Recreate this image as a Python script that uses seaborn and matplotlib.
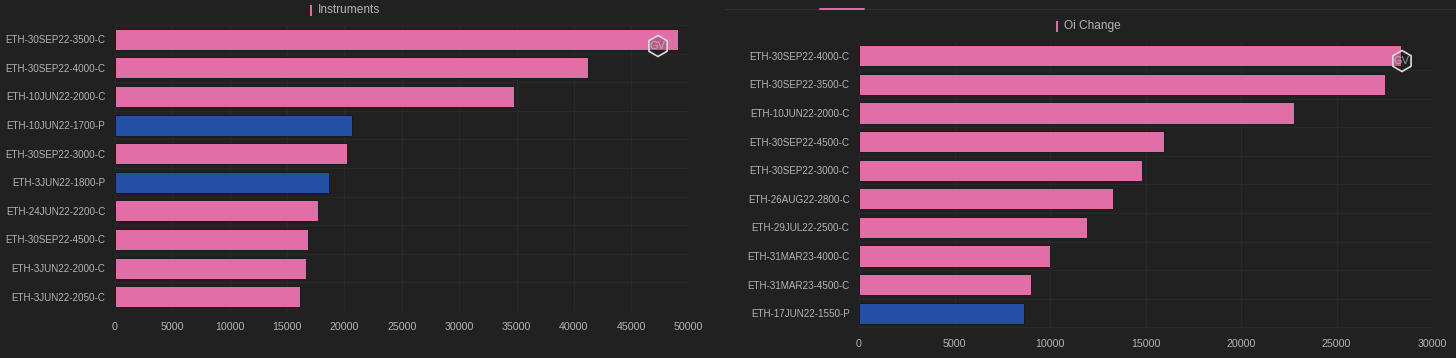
import matplotlib
matplotlib.use("Agg")
import matplotlib.pyplot as plt
from matplotlib.patches import RegularPolygon, Rectangle
from matplotlib.lines import Line2D
import pandas as pd
import seaborn as sns

W, H = 1456, 358
BG = "#212121"
PINK = "#e26ea8"
BLUE = "#2450a4"
TXT = "#b4b4b4"
GRID = "#2a2a2a"

left_names = ["ETH-30SEP22-3500-C", "ETH-30SEP22-4000-C", "ETH-10JUN22-2000-C", "ETH-10JUN22-1700-P",
              "ETH-30SEP22-3000-C", "ETH-3JUN22-1800-P", "ETH-24JUN22-2200-C", "ETH-30SEP22-4500-C",
              "ETH-3JUN22-2000-C", "ETH-3JUN22-2050-C"]
left_values = [49050, 41250, 34800, 20700, 20250, 18650, 17750, 16850, 16650, 16100]
right_names = ["ETH-30SEP22-4000-C", "ETH-30SEP22-3500-C", "ETH-10JUN22-2000-C", "ETH-30SEP22-4500-C",
               "ETH-30SEP22-3000-C", "ETH-26AUG22-2800-C", "ETH-29JUL22-2500-C", "ETH-31MAR23-4000-C",
               "ETH-31MAR23-4500-C", "ETH-17JUN22-1550-P"]
right_values = [28360, 27520, 22790, 15970, 14820, 13300, 11940, 10000, 9000, 8650]

sns.set_theme(style="dark")
plt.rcParams["font.family"] = ["Liberation Sans", "DejaVu Sans"]

fig = plt.figure(figsize=(W / 100, H / 100), dpi=100, facecolor=BG)


def panel(names, values, box, xmax, step, title, title_x, title_y):
    x0, y0, x1, y1 = box
    ax = fig.add_axes([x0 / W, 1 - y1 / H, (x1 - x0) / W, (y1 - y0) / H], facecolor=BG)
    df = pd.DataFrame({"name": names, "value": values})
    df["kind"] = df["name"].str[-1]
    sns.barplot(data=df, x="value", y="name", hue="kind", palette={"C": PINK, "P": BLUE},
                dodge=False, width=0.74, legend=False, ax=ax, saturation=1, zorder=3,
                edgecolor="#1a1a1a", linewidth=0.7)
    ax.set_xlim(0, xmax)
    ax.set_ylim(len(names) - 0.5, -0.5)
    ax.set_xticks(range(0, xmax + 1, step))
    ax.set_yticks(range(len(names)))
    ax.set_yticklabels(names)
    ax.set_xlabel("")
    ax.set_ylabel("")
    ax.tick_params(axis="x", length=0, labelsize=7.7, colors=TXT, pad=8)
    ax.tick_params(axis="y", length=0, labelsize=7.1, colors=TXT, pad=6.8)
    # grid sits on the band edges, not on the labels
    for i in range(len(names) + 1):
        ax.axhline(i - 0.5, color=GRID, lw=0.7, zorder=1)
    for t in range(0, xmax + 1, step):
        ax.axvline(t, color=GRID, lw=0.7, zorder=1)
    ax.grid(False)
    for s in ax.spines.values():
        s.set_visible(False)
    fig.add_artist(Rectangle(((title_x - 1) / W, 1 - (title_y + 6) / H), 2 / W, 11 / H,
                             transform=fig.transFigure, facecolor=PINK, linewidth=0))
    fig.text((title_x + 6.5) / W, 1 - title_y / H, title, color=TXT, fontsize=8.6, va="center", ha="left")
    return ax


def badge(px, py):
    # GV watermark on the top bar
    fig.add_artist(RegularPolygon((px, H - py), 6, radius=10.5, transform=None,
                                  facecolor=(0.13, 0.13, 0.13, 0.22), edgecolor="#dcdcdc", lw=1.2))
    fig.text(px / W, 1 - py / H, "GV", color="#c8c8c8", fontsize=8, ha="center", va="center", alpha=0.7)


panel(left_names, left_values, (114.7, 25, 688.7, 311), 50000, 5000, "Instruments", 311, 10)
panel(right_names, right_values, (859, 41.5, 1432, 327.5), 30000, 5000, "Oi Change", 1057, 26)
badge(658, 46)
badge(1402, 61)

# tab strip above the right chart
fig.add_artist(Line2D([725 / W, 1 - 1e-3], [1 - 8.5 / H] * 2, color="#303030", lw=0.9))
fig.add_artist(Line2D([820 / W, 864 / W], [1 - 8.5 / H] * 2, color=PINK, lw=1.4))

fig.savefig("out.png", dpi=100, facecolor=BG)
